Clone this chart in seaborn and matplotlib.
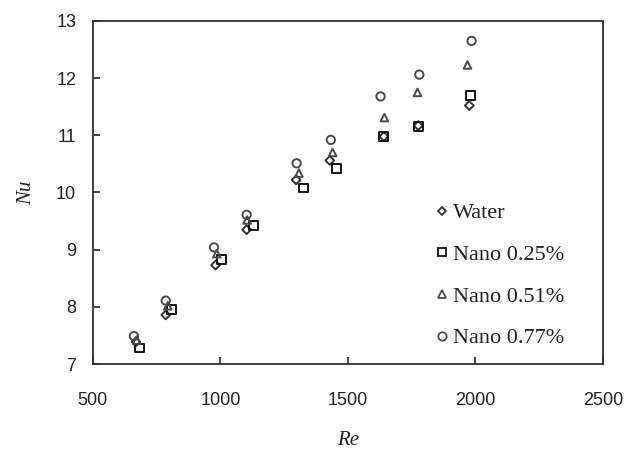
import matplotlib
matplotlib.use("Agg")
import matplotlib.pyplot as plt
import seaborn as sns
import pandas as pd
from matplotlib.lines import Line2D

# ---- data ----
series_names = ["Water", "Nano 0.25%", "Nano 0.51%", "Nano 0.77%"]
re_water = [669, 786, 981, 1103, 1297, 1429, 1641, 1776, 1976]
nu_water = [7.39, 7.86, 8.73, 9.35, 10.22, 10.56, 10.98, 11.17, 11.52]
re_n025 = [682, 809, 1005, 1129, 1327, 1456, 1641, 1776, 1981]
nu_n025 = [7.28, 7.95, 8.83, 9.42, 10.08, 10.42, 10.98, 11.15, 11.69]
re_n051 = [672, 794, 986, 1105, 1308, 1440, 1643, 1773, 1969]
nu_n051 = [7.42, 8.02, 8.93, 9.52, 10.34, 10.70, 11.31, 11.75, 12.23]
re_n077 = [661, 786, 975, 1103, 1299, 1433, 1628, 1780, 1985]
nu_n077 = [7.49, 8.11, 9.04, 9.61, 10.51, 10.92, 11.68, 12.06, 12.65]
x_ticks = [500, 1000, 1500, 2000, 2500]
y_ticks = [7, 8, 9, 10, 11, 12, 13]

sns.set_theme(style="white")

frames = []
for name, xs, ys in [("Water", re_water, nu_water),
                     ("Nano 0.25%", re_n025, nu_n025),
                     ("Nano 0.51%", re_n051, nu_n051),
                     ("Nano 0.77%", re_n077, nu_n077)]:
    frames.append(pd.DataFrame({"Re": xs, "Nu": ys, "series": name}))
df = pd.concat(frames, ignore_index=True)

markers = {"Water": "D", "Nano 0.25%": "s", "Nano 0.51%": "^", "Nano 0.77%": "o"}
sizes = {"Water": 20, "Nano 0.25%": 40, "Nano 0.51%": 30, "Nano 0.77%": 36}
edges = {"Water": "#333333", "Nano 0.25%": "#111111", "Nano 0.51%": "#4a4a4a", "Nano 0.77%": "#4a4a4a"}

fig = plt.figure(figsize=(6.36, 4.54), dpi=100)
ax = fig.add_axes([0.146, 0.198, 0.802, 0.756])

for name in series_names:
    sub = df[df["series"] == name]
    sns.scatterplot(data=sub, x="Re", y="Nu", marker=markers[name], s=sizes[name],
                    ax=ax, legend=False, color=edges[name], edgecolor=edges[name], linewidth=1.4)
    ax.collections[-1].set_facecolor("none")

ax.set_xlim(500, 2500)
ax.set_ylim(7, 13)
ax.set_xticks(x_ticks)
ax.set_yticks(y_ticks)
ax.set_xticklabels([str(v) for v in x_ticks], family="Liberation Sans", fontsize=13, color="#222222")
ax.set_yticklabels([str(v) for v in y_ticks], family="Liberation Sans", fontsize=13, color="#222222")
ax.tick_params(axis="x", direction="in", length=5, width=1.2, pad=20, bottom=True, top=False, colors="#222222")
ax.tick_params(axis="y", direction="in", length=5, width=1.2, pad=12, left=True, right=False, colors="#222222")
for sp in ax.spines.values():
    sp.set_color("#333333")
    sp.set_linewidth(1.3)

ax.set_xlabel("Re", family="Liberation Serif", style="italic", fontsize=15, color="#222222", labelpad=16)
ax.set_ylabel("Nu", family="Liberation Serif", style="italic", fontsize=15, color="#222222", labelpad=14)

handles = [Line2D([], [], linestyle="none", marker=markers[n], markersize=(sizes[n] ** 0.5),
                  markerfacecolor="none", markeredgecolor=edges[n], markeredgewidth=1.3)
           for n in series_names]
leg = ax.legend(handles, series_names, loc="upper left", bbox_to_anchor=(0.64, 0.515),
                frameon=False, prop={"family": "Liberation Serif", "size": 16},
                handlelength=0.65, handletextpad=0.15, labelspacing=0.95, borderpad=0.2)
for t in leg.get_texts():
    t.set_color("#222222")

fig.savefig("out.png", dpi=100)
